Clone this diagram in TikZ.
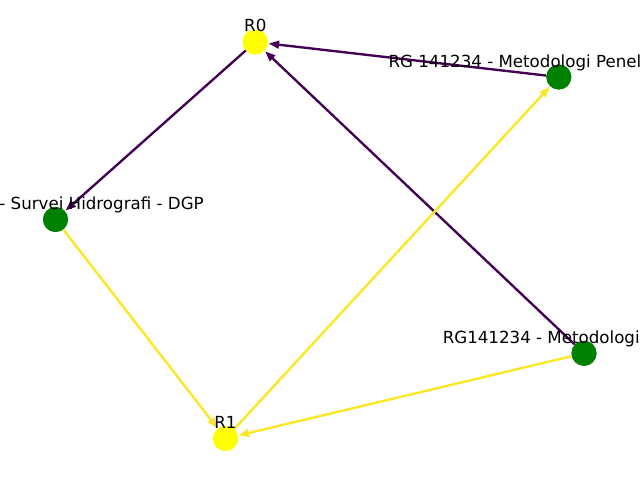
\documentclass[tikz,border=0pt]{standalone}
\usepackage{fontspec}
\setmainfont{DejaVu Sans}
\usetikzlibrary{arrows.meta}
\definecolor{vpurple}{HTML}{440154}
\definecolor{vyellow}{HTML}{FDE725}
\definecolor{ngreen}{HTML}{008000}
\definecolor{nyellow}{HTML}{FFFF00}
\tikzset{
  vert/.style={circle, inner sep=0pt, minimum size=18pt},
  gnode/.style={vert, fill=ngreen},
  ynode/.style={vert, fill=nyellow},
  lbl/.style={inner sep=0pt, font=\fontsize{12}{14}\selectfont, text=black},
  edge/.style={line width=1.7pt, -{Triangle[length=7.5pt,width=5.5pt]}, shorten >=0.5pt},
  pedge/.style={edge, draw=vpurple},
  yedge/.style={edge, draw=vyellow},
}
\begin{document}
\begin{tikzpicture}[x=0.72pt, y=-0.72pt]
\useasboundingbox (0,0) rectangle (640,480);
\clip (0,0) rectangle (640,480);
\fill[white] (0,0) rectangle (640,480);
\coordinate (pR0) at (255.3,42);
\coordinate (pTR) at (558.8,77);
\coordinate (pL) at (55.5,219.5);
\coordinate (pBR) at (584,353.3);
\coordinate (pR1) at (225.5,438.5);
\node[ynode] (R0) at (pR0) {};
\node[gnode] (TR) at (pTR) {};
\node[gnode] (L) at (pL) {};
\node[gnode] (BR) at (pBR) {};
\node[ynode] (R1) at (pR1) {};
\draw[pedge] (R0) -- (L);
\draw[pedge] (TR) -- (R0);
\draw[pedge] (BR) -- (R0);
\draw[yedge] (L) -- (R1);
\draw[yedge] (R1) -- (TR);
\draw[yedge] (BR) -- (R1);
\node[ynode] at (pR0) {};
\node[gnode] at (pTR) {};
\node[gnode] at (pL) {};
\node[gnode] at (pBR) {};
\node[ynode] at (pR1) {};
\node[lbl, anchor=base] (tR0) at (255.3,31) {R0};
\node[lbl, anchor=base] (tR1) at (225.5,428) {R1};
\node[lbl, anchor=base east] (tL) at (204,209) {- Survei Hidrografi - DGP};
\node[lbl, anchor=base west] (tTR) at (388.3,67) {RG 141234 - Metodologi Penel};
\node[lbl, anchor=base west] (tBR) at (442.5,343) {RG141234 - Metodologi};
\end{tikzpicture}
\end{document}
